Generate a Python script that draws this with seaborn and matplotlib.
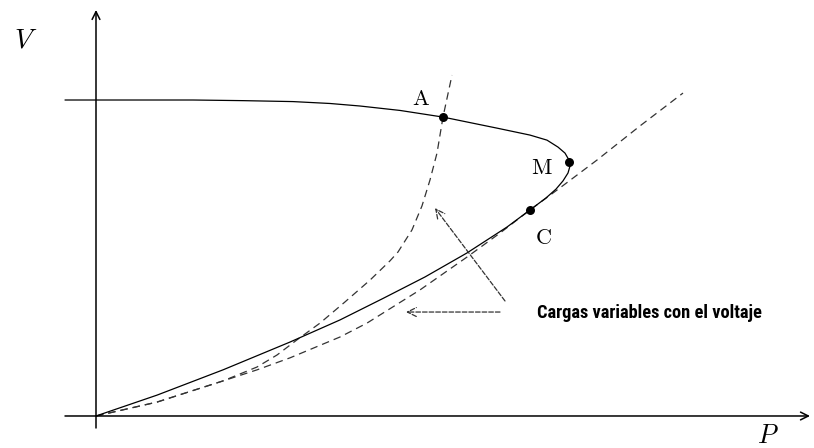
import matplotlib
matplotlib.use("Agg")
import matplotlib.pyplot as plt
import seaborn as sns
import pandas as pd

# PV nose curve (upper branch, nose, lower branch) - P and V in per unit
pv_p = [-0.062, 0.0, 0.194, 0.294, 0.394, 0.468, 0.528, 0.608, 0.694, 0.802, 0.868,
        0.902, 0.924, 0.938, 0.946, 0.948, 0.944, 0.934, 0.920, 0.900, 0.868, 0.822,
        0.742, 0.658, 0.574, 0.488, 0.388, 0.254, 0.122, 0.0]
pv_v = [1.000, 1.000, 1.000, 0.998, 0.995, 0.989, 0.981, 0.967, 0.946, 0.911, 0.889,
        0.873, 0.851, 0.832, 0.810, 0.791, 0.769, 0.744, 0.718, 0.690, 0.652, 0.598,
        0.516, 0.440, 0.372, 0.304, 0.234, 0.146, 0.066, 0.0]

# load characteristic through A (steep)
load_a_p = [0.0, 0.122, 0.254, 0.322, 0.362, 0.402, 0.448, 0.498, 0.548, 0.588,
            0.604, 0.632, 0.652, 0.668, 0.682, 0.694, 0.712]
load_a_v = [0.0, 0.044, 0.111, 0.155, 0.193, 0.241, 0.294, 0.361, 0.430, 0.491,
            0.519, 0.589, 0.665, 0.747, 0.832, 0.946, 1.079]

# load characteristic through C (tangent near the nose)
load_c_p = [0.0, 0.122, 0.254, 0.322, 0.388, 0.488, 0.542, 0.648, 0.742, 0.808,
            0.868, 0.928, 1.002, 1.088, 1.174]
load_c_v = [0.0, 0.044, 0.111, 0.146, 0.184, 0.250, 0.294, 0.399, 0.503, 0.579,
            0.652, 0.722, 0.810, 0.918, 1.022]

# operating points
pt_names = ["A", "M", "C"]
pt_p = [0.694, 0.946, 0.868]
pt_v = [0.946, 0.804, 0.652]
lbl_p = [0.650, 0.892, 0.894]
lbl_v = [1.003, 0.785, 0.563]

note = "Cargas variables con el voltaje"

sns.set_theme(style="white")
plt.rcParams["mathtext.fontset"] = "cm"

fig = plt.figure(figsize=(8.14, 4.48), dpi=100)
ax = fig.add_axes([0, 0, 1, 1])
ax.set_xlim(-0.192, 1.436)
ax.set_ylim(-0.1013, 1.3165)
ax.set_axis_off()

dash = (0, (6, 4))
sns.lineplot(x=load_a_p, y=load_a_v, sort=False, estimator=None, ax=ax,
             color="#333333", lw=0.9, linestyle=dash)
sns.lineplot(x=load_c_p, y=load_c_v, sort=False, estimator=None, ax=ax,
             color="#333333", lw=0.9, linestyle=dash)
sns.lineplot(x=pv_p, y=pv_v, sort=False, estimator=None, ax=ax,
             color="black", lw=0.9)

pts = pd.DataFrame({"P": pt_p, "V": pt_v})
sns.scatterplot(data=pts, x="P", y="V", ax=ax, color="black", s=42,
                edgecolor="black", linewidth=0, zorder=5)

for name, x, y in zip(pt_names, lbl_p, lbl_v):
    ax.text(x, y, r"$\mathrm{%s}$" % name, fontsize=16, ha="center", va="center",
            color="black")

# axes with arrow heads
ax.annotate("", xy=(0, 1.285), xytext=(0, -0.038),
            arrowprops=dict(arrowstyle="->", lw=1.1, color="black",
                            mutation_scale=14, shrinkA=0, shrinkB=0))
ax.annotate("", xy=(1.428, 0), xytext=(-0.062, 0),
            arrowprops=dict(arrowstyle="->", lw=1.1, color="black",
                            mutation_scale=14, shrinkA=0, shrinkB=0))
ax.text(-0.140, 1.190, r"$V$", fontsize=20, ha="center", va="center", color="black")
ax.text(1.344, -0.064, r"$P$", fontsize=19, ha="center", va="center", color="black")

# dashed arrows pointing to the load curves
ax.annotate("", xy=(0.678, 0.658), xytext=(0.818, 0.364),
            arrowprops=dict(arrowstyle="->", lw=0.9, color="#333333",
                            linestyle="--", mutation_scale=16, shrinkA=0, shrinkB=0))
ax.annotate("", xy=(0.620, 0.329), xytext=(0.808, 0.329),
            arrowprops=dict(arrowstyle="->", lw=0.9, color="#333333",
                            linestyle="--", mutation_scale=16, shrinkA=0, shrinkB=0))
txt = ax.text(0.882, 0.326, note, fontsize=12, fontweight="bold", ha="left",
              va="center", color="black", fontstretch="condensed",
              family=["Roboto Condensed", "Open Sans Condensed", "DejaVu Sans"])

# squeeze the note into the width it has in the original (~226 px)
fig.canvas.draw()
w = txt.get_window_extent().width
txt.set_fontsize(12 * 226 / w)

fig.savefig("out.png", dpi=100, facecolor="white")
